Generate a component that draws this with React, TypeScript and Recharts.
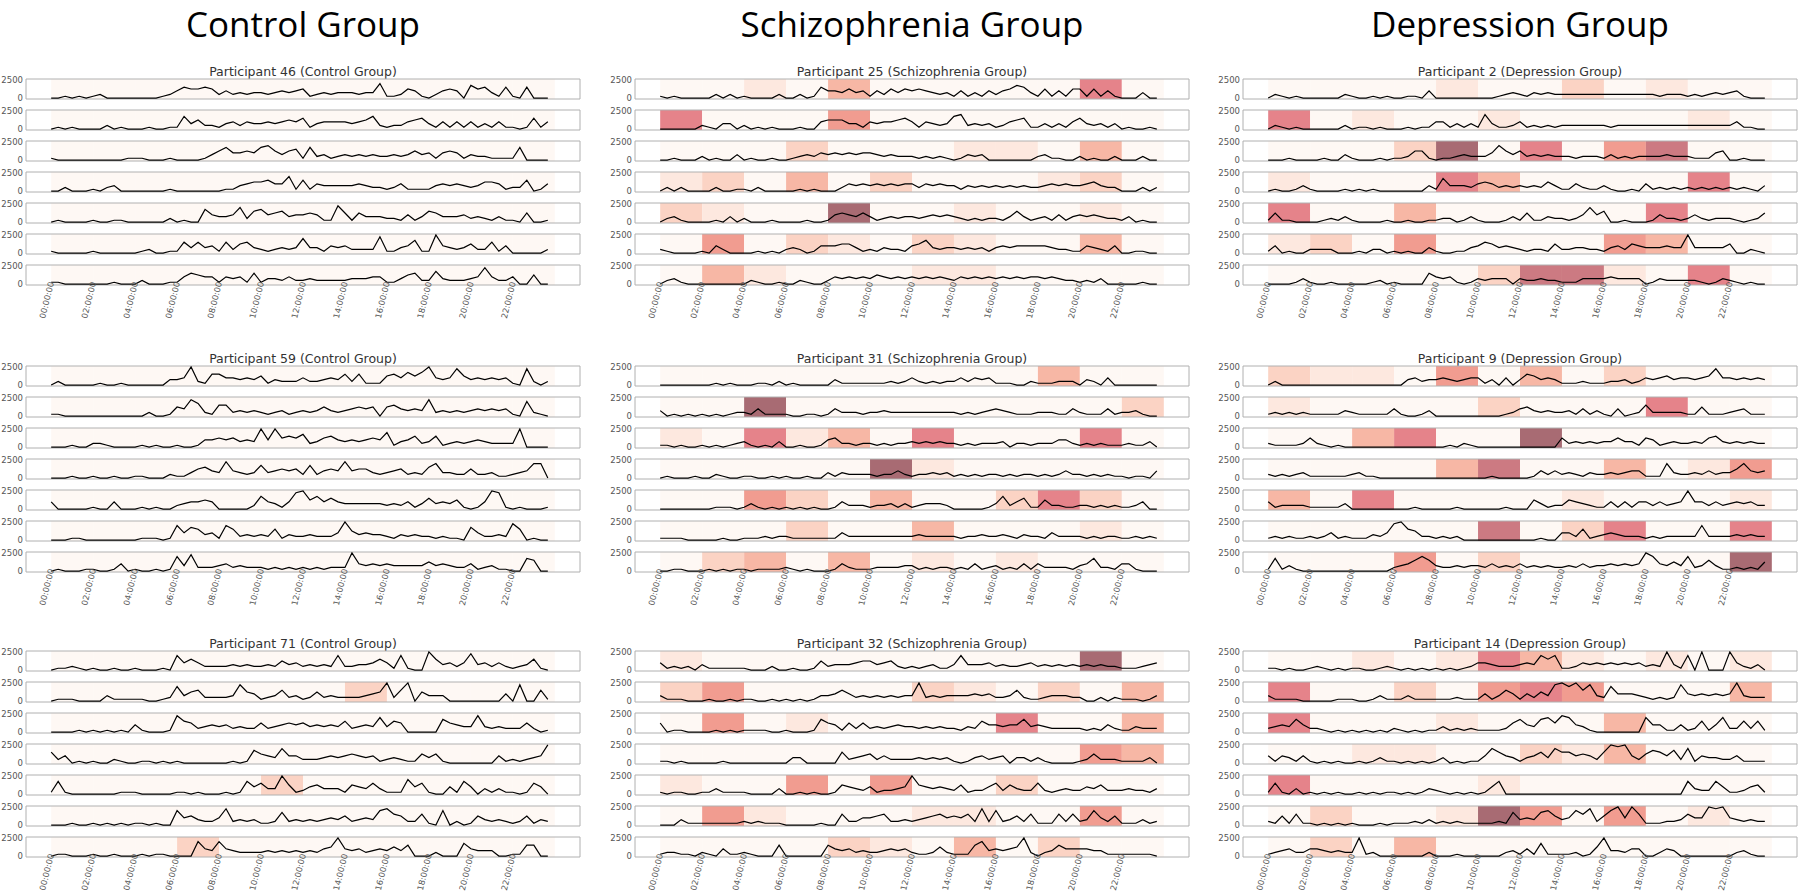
import { ComposedChart, Line, XAxis, YAxis, ReferenceArea } from 'recharts';

// x axis: minutes since midnight
const hourTicks = [0, 120, 240, 360, 480, 600, 720, 840, 960, 1080, 1200, 1320];
const hourLabels = ['00:00:00', '02:00:00', '04:00:00', '06:00:00', '08:00:00', '10:00:00', '12:00:00', '14:00:00', '16:00:00', '18:00:00', '20:00:00', '22:00:00'];
const countTicks = [0, 2500];
const groupTitles = ['Control Group', 'Schizophrenia Group', 'Depression Group'];

// activity per 20-minute bin, one char per bin (0-9 -> x250 counts, a -> 2500),
// grouped in 2-hour blocks, one string per recorded day
// window strings: one digit per 2-hour block, shading intensity 0-7

const p46 = [
  '001010 120000 000012 465565 242323 323434 512323 332338 112541 024540 756316 106000',
  '010100 002010 001001 173522 134243 343454 613444 434572 122456 314141 413141 101614',
  '100000 000001 110001 000013 574454 785356 172312 323232 232353 414541 322111 170000',
  '002000 102300 000001 000000 011345 564481 614333 334322 124111 134343 235541 226014',
  '010000 100110 000002 010074 334826 745634 454119 515333 221413 653334 232131 105001',
  '100000 100000 012001 163634 162563 212323 833143 422229 113471 1a4323 522614 000002',
  '110000 000100 020001 146544 143416 133242 232222 233344 113562 273222 349422 400500',
];
const p46Win = ['000000000000', '000000000000', '000000000000', '000000000000', '000000000000', '000000000000', '000000000000'];

const p25 = [
  '101000 002020 100002 002016 443534 142535 454323 141314 245763 151415 515141 000300',
  '000000 210330 201010 001004 555331 434456 414323 782323 124561 131314 632313 010010',
  '001000 201003 010010 012324 343434 432322 212121 013230 000000 231100 201002 000200',
  '020200 002001 102000 001010 002434 343434 424343 313232 323232 234343 345322 000202',
  '023100 001030 200010 000100 145435 312323 323434 321212 213631 231413 434322 130100',
  '210000 104200 001010 232014 445531 213221 457323 323231 343444 443221 143214 001100',
  '023100 000000 021001 002100 243434 354343 434343 243434 343434 434322 121300 000100',
];
const p25Win = ['001030000050', '500040000000', '000200011030', '120302000120', '210070010010', '040210210030', '031000110000'];

const p2 = [
  '021010 000002 100101 001104 000000 000123 213232 222222 222222 221222 121232 341000',
  '021010 000002 011010 001011 441313 183112 412121 222222 212222 222222 222222 241100',
  '000100 001003 100010 112551 011232 224853 523232 221222 131212 222322 211145 001000',
  '010013 100001 010100 000003 173332 454232 323253 114211 310010 412121 212121 212103',
  '151100 001213 100001 001001 122013 100013 151132 212484 600100 014221 242122 210125',
  '140100 222200 010220 101003 100113 465343 212215 223322 134254 333433 a33333 500210',
  '000013 100100 000120 100006 434101 323330 322322 111333 343333 013222 221013 210100',
];
const p2Win = ['000010020100', '501001000010', '000270504600', '100053000050', '500300000500', '120400004300', '000002661050'];

const p59 = [
  '020000 010010 000003 34a216 644343 513222 422343 626111 564757 a43495 343434 109202',
  '110000 000000 002001 549721 662323 212312 323532 345450 564343 923232 343434 108210',
  '000100 221000 010100 100144 545343 a4a565 723564 343454 813462 361232 343222 2a0000',
  '000100 100100 110002 113564 394323 734545 272454 945532 345232 683322 522311 234880',
  '400000 100400 010100 234454 000002 743149 a57464 333333 232413 634351 014a91 010001',
  '000110 000000 011101 847634 186232 326132 232224 a53433 213232 212110 742232 960100',
  '010001 100140 100101 839222 342322 212121 212122 2a4343 433333 534322 412311 007600',
];
const p59Win = ['000000000000', '000000000000', '000000000000', '000000000000', '000000000000', '000000000000', '000000000000'];

const p31 = [
  '000000 001010 001102 010000 031111 111212 421212 242434 111002 111222 032040 000000',
  '301010 101012 214111 100110 142221 223222 222222 212123 432111 222114 211141 223100',
  '110100 101012 310103 001001 452212 212122 323232 212122 230221 222442 121211 121130',
  '010001 002100 110010 100100 313222 212242 122323 121212 212122 121242 212121 101104',
  '000000 001110 131010 101010 014222 122313 123332 000001 372461 152211 221212 112400',
  '111100 000100 111212 211111 114222 222222 232222 212232 232132 214222 212122 112121',
  '001100 010101 101111 210100 014211 122223 312122 121412 312141 422221 347221 441000',
];
const p31Win = ['000000000300', '007000000002', '105130500050', '000007100000', '004203002520', '000200300010', '023030101000'];

const p9 = [
  '020000 000000 000000 003423 343234 413040 365343 111211 122312 434534 434594 434343',
  '121212 111113 211111 410013 000000 000012 453232 231413 104012 622222 115111 234111',
  '211112 521010 000000 000000 001021 000000 000000 523232 335331 541232 232563 232322',
  '212123 111111 231100 000000 000000 001000 001424 232132 232344 111832 232423 358434',
  '412222 111113 000000 000100 000100 000010 005312 254321 141414 424234 a44242 343422',
  '121211 212412 111324 9a6522 121200 000000 000100 442612 343222 121222 228222 232322',
  '171310 000000 000000 234686 322323 324232 423232 232423 343434 a84353 823631 121215',
];
const p9Win = ['211040302000', '100002000500', '003500700000', '000036003014', '305000010001', '000006025005', '000402000007'];

const p71 = [
  '011210 100100 100010 846422 223232 232534 232328 223346 418100 a63424 934242 123610',
  '011100 003111 110012 835622 223954 123623 125232 222345 a26a05 333000 000004 090061',
  '000010 101010 410001 965234 342322 523454 534343 623438 365000 007543 393232 225201',
  '624010 100210 011010 100000 001017 543844 222343 454341 232115 351000 000041 21234a',
  '171000 000011 100000 110100 010174 633a51 245333 154363 111846 100417 403131 101640',
  '000100 101010 110100 845322 492323 112723 232343 523438 965226 108020 153232 125132',
  '011000 100100 010110 000843 843222 232323 23245a 434234 353600 020007 433300 116600',
];
const p71Win = ['000000000000', '000000020000', '000000000000', '000000000000', '000002000000', '000000000000', '000200000000'];

const p32 = [
  '412120 311111 100020 010015 233345 534521 212311 383334 232234 232323 232322 111234',
  '311100 010010 110010 101013 346423 232323 3a2323 333434 223621 123332 200202 111013',
  '501100 001010 111100 100017 541525 232343 323232 213264 434473 432222 212142 113222',
  '110100 000100 000000 033000 006234 524222 232323 101342 340331 310000 125222 111130',
  '101100 113111 100003 001010 015432 412234 a54343 251224 625322 621232 243522 232213',
  '000311 111111 212111 000001 006224 456223 234564 546292 823526 111626 238425 111312',
  '122110 210411 210006 000000 643423 223434 211252 111683 4345a2 023644 443311 111110',
];
const p32Win = ['100000000070', '240000210203', '040100005003', '000000000043', '100404002000', '041000110040', '000021030200'];

const p14 = [
  '110100 121010 110012 101010 101012 443222 343868 112434 343434 232a31 80a000 a42130',
  '311110 000011 100131 113111 111211 141364 142539 a8a693 284443 212129 434343 4a3222',
  '234374 221010 101010 210101 131212 111125 743785 984310 000000 844114 126148 226261',
  '414314 101010 010131 101010 130101 148643 134638 664542 6a9a42 576472 814332 241111',
  '161030 101010 010101 101013 210101 014700 000000 000000 000000 000000 732274 112451',
  '215161 101010 100010 111213 121211 111217 343785 348692 58a4a6 111223 644a9a 432322',
  '123422 443232 2a1200 000002 000100 000023 141711 112015 a33244 002430 000000 023100',
];
const p14Win = ['001015310101', '500204540003', '500010003000', '001100213000', '500001000000', '020017404010', '020300000000'];

const shadeColors = ['#fef8f4', '#fde8df', '#fbd3c4', '#f7b7a5', '#f19c90', '#e5838a', '#cc7a82', '#a86b73'];

const participants = [
  { title: 'Participant 46 (Control Group)', days: p46, windows: p46Win },
  { title: 'Participant 25 (Schizophrenia Group)', days: p25, windows: p25Win },
  { title: 'Participant 2 (Depression Group)', days: p2, windows: p2Win },
  { title: 'Participant 59 (Control Group)', days: p59, windows: p59Win },
  { title: 'Participant 31 (Schizophrenia Group)', days: p31, windows: p31Win },
  { title: 'Participant 9 (Depression Group)', days: p9, windows: p9Win },
  { title: 'Participant 71 (Control Group)', days: p71, windows: p71Win },
  { title: 'Participant 32 (Schizophrenia Group)', days: p32, windows: p32Win },
  { title: 'Participant 14 (Depression Group)', days: p14, windows: p14Win },
];

const COL_X = [26, 635, 1243];
const BLOCK_Y = [79, 366, 651];
const BOX_W = 554;
const BOX_H = 20;
const PITCH = 31;
const AXIS_W = 26;
const PAD = 6;
const X_DOMAIN = [-72, 1512];
const Y_DOMAIN = [-125, 2625];
const LEVELS = '0123456789a';

function decodeDay(day: string) {
  return day.replace(/ /g, '').split('').map((c, i) => ({ t: i * 20, v: LEVELS.indexOf(c) * 250 }));
}

function TimeTick({ x, y, payload }: any) {
  const label = hourLabels[hourTicks.indexOf(payload.value)];
  return (
    <text x={x} y={y} transform={`rotate(-76, ${x}, ${y})`} textAnchor="end" dominantBaseline="central"
      fontSize={8.3} fill="#555" fontFamily="DejaVu Sans">{label}</text>
  );
}

function DayRow({ day, windows, showTime }: { day: string; windows: string; showTime: boolean }) {
  const data = decodeDay(day);
  return (
    <ComposedChart width={AXIS_W + BOX_W + 2} height={BOX_H + 2 * PAD + (showTime ? 44 : 0)} data={data}
      margin={{ top: PAD, right: 2, bottom: PAD, left: 0 }}>
      <XAxis type="number" dataKey="t" domain={X_DOMAIN} ticks={hourTicks} interval={0} allowDataOverflow
        hide={!showTime} height={44} tickLine={false} axisLine={false} tickSize={0} tickMargin={-3}
        tick={(p: any) => <TimeTick {...p} />} />
      <YAxis type="number" domain={Y_DOMAIN} ticks={countTicks} interval={0} allowDataOverflow width={AXIS_W}
        tickLine={false} axisLine={false} tickSize={0} tickMargin={3}
        tick={{ fontSize: 8.5, fill: '#555', fontFamily: 'DejaVu Sans' }} />
      {windows.split('').map((lv, i) => (
        <ReferenceArea key={i} x1={hourTicks[i]} x2={hourTicks[i] + 120} y1={Y_DOMAIN[0]} y2={Y_DOMAIN[1]}
          fill={shadeColors[Number(lv)]} fillOpacity={1} stroke="none" />
      ))}
      <ReferenceArea x1={X_DOMAIN[0]} x2={X_DOMAIN[1]} y1={Y_DOMAIN[0]} y2={Y_DOMAIN[1]}
        fill="none" stroke="#b0b0b0" strokeWidth={1} />
      <Line type="linear" dataKey="v" stroke="#000" strokeWidth={1.2} dot={false} activeDot={false}
        isAnimationActive={false} />
    </ComposedChart>
  );
}

export default function App() {
  return (
    <div style={{ position: 'absolute', left: 0, top: 0, width: 1800, height: 896, background: '#fff', overflow: 'hidden' }}>
      {groupTitles.map((g, c) => (
        <div key={g} style={{ position: 'absolute', left: COL_X[c], width: BOX_W, top: 0, textAlign: 'center',
          fontFamily: '"Open Sans"', fontSize: 35, lineHeight: '48px', color: '#000' }}>{g}</div>
      ))}
      {participants.map((p, idx) => {
        const c = idx % 3;
        const b = Math.floor(idx / 3);
        return (
          <div key={p.title}>
            <div style={{ position: 'absolute', left: COL_X[c], width: BOX_W, top: BLOCK_Y[b] - 14, textAlign: 'center',
              fontFamily: '"DejaVu Sans"', fontSize: 12.5, lineHeight: '14px', color: '#333' }}>{p.title}</div>
            {p.days.map((d, k) => (
              <div key={k} style={{ position: 'absolute', left: COL_X[c] - AXIS_W, top: BLOCK_Y[b] + k * PITCH - PAD }}>
                <DayRow day={d} windows={p.windows[k]} showTime={k === p.days.length - 1} />
              </div>
            ))}
          </div>
        );
      })}
    </div>
  );
}
